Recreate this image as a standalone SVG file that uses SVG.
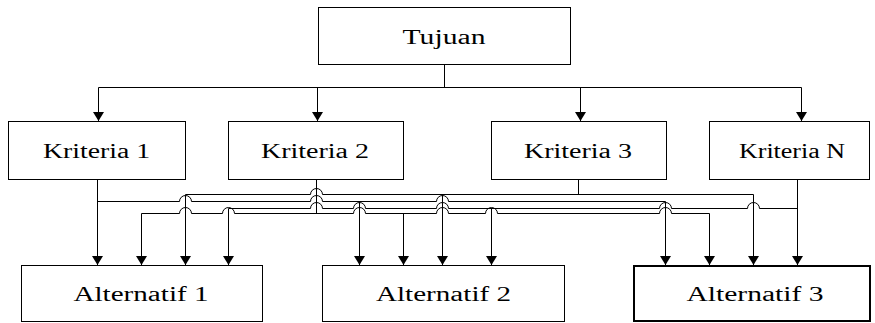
<svg xmlns="http://www.w3.org/2000/svg" width="875" height="323" viewBox="0 0 875 323">
<style>
.box{fill:#fff;stroke:#000;stroke-width:1}
.thick{stroke-width:2}
.lbl{font-family:"Liberation Serif","Times New Roman",serif;font-size:20px;fill:#000;text-anchor:middle}
.ln{fill:none;stroke:#000;stroke-width:1}
.ar{fill:none;stroke:#000;stroke-width:1;marker-end:url(#ah)}
</style>
<defs>
<marker id="ah" viewBox="0 0 9 11" markerUnits="userSpaceOnUse" markerWidth="9" markerHeight="11" refX="9" refY="5.5" orient="auto">
<path d="M0,0 L9,5.5 L0,11 z" fill="#000"/>
</marker>
</defs>
<rect width="875" height="323" fill="#fff"/>
<g id="connectors">
<path class="ln" d="M444.5,64.5 V87.5 M98.5,87.5 H801.5"/>
<path class="ar" d="M98.5,87.5 V121"/>
<path class="ar" d="M317.5,87.5 V121"/>
<path class="ar" d="M580.5,87.5 V121"/>
<path class="ar" d="M801.5,87.5 V121"/>
<!-- Kriteria 1 -->
<path class="ar" d="M97.5,179.5 V265"/>
<path class="ln" d="M97.5,201.5 H179.5 A6,6 0 0 1 191.5,201.5 H310.5 A6,6 0 0 1 322.5,201.5 H436.5 A6,6 0 0 1 448.5,201.5 H665.5"/>
<path class="ar" d="M359.5,201.5 V265"/>
<path class="ar" d="M665.5,201.5 V265"/>
<!-- Kriteria 2 -->
<path class="ln" d="M316.5,179.5 V213.5"/>
<path class="ln" d="M141.5,213.5 H179.5 A6,6 0 0 1 191.5,213.5 H222.5 A6,6 0 0 1 234.5,213.5 H353.5 A6,6 0 0 1 365.5,213.5 H436.5 A6,6 0 0 1 448.5,213.5 H485.5 A6,6 0 0 1 497.5,213.5 H659.5 A6,6 0 0 1 671.5,213.5 H709.5"/>
<path class="ar" d="M141.5,213.5 V265"/>
<path class="ar" d="M403.5,213.5 V265"/>
<path class="ar" d="M709.5,213.5 V265"/>
<!-- Kriteria 3 -->
<path class="ln" d="M578.5,179.5 V194.5"/>
<path class="ln" d="M185.5,194.5 H310.5 A6,6 0 0 1 322.5,194.5 H753.5"/>
<path class="ar" d="M185.5,194.5 V265"/>
<path class="ar" d="M442.5,194.5 V265"/>
<path class="ar" d="M753.5,194.5 V265"/>
<!-- Kriteria N -->
<path class="ar" d="M797.5,179.5 V265"/>
<path class="ln" d="M228.5,208.5 H310.5 A6,6 0 0 1 322.5,208.5 H353.5 A6,6 0 0 1 365.5,208.5 H436.5 A6,6 0 0 1 448.5,208.5 H659.5 A6,6 0 0 1 671.5,208.5 H747.5 A6,6 0 0 1 759.5,208.5 H797.5"/>
<path class="ar" d="M228.5,208.5 V265"/>
<path class="ar" d="M491.5,208.5 V265"/>
</g>
<g id="tujuan">
<rect class="box" x="318.5" y="7.5" width="252" height="57"/>
<text class="lbl" x="444" y="44" textLength="83" lengthAdjust="spacingAndGlyphs">Tujuan</text>
</g>
<g id="kriteria1">
<rect class="box" x="8.5" y="121.5" width="177" height="58"/>
<text class="lbl" x="96.5" y="158" textLength="107" lengthAdjust="spacingAndGlyphs">Kriteria 1</text>
</g>
<g id="kriteria2">
<rect class="box" x="228.5" y="121.5" width="175" height="58"/>
<text class="lbl" x="315" y="158" textLength="108" lengthAdjust="spacingAndGlyphs">Kriteria 2</text>
</g>
<g id="kriteria3">
<rect class="box" x="491.5" y="121.5" width="175" height="58"/>
<text class="lbl" x="578" y="158" textLength="108" lengthAdjust="spacingAndGlyphs">Kriteria 3</text>
</g>
<g id="kriteriaN">
<rect class="box" x="709.5" y="121.5" width="160" height="58"/>
<text class="lbl" x="792" y="158" textLength="106" lengthAdjust="spacingAndGlyphs">Kriteria N</text>
</g>
<g id="alternatif1">
<rect class="box" x="21.5" y="265.5" width="241" height="56"/>
<text class="lbl" x="141" y="301" textLength="135" lengthAdjust="spacingAndGlyphs">Alternatif 1</text>
</g>
<g id="alternatif2">
<rect class="box" x="322.5" y="265.5" width="242" height="56"/>
<text class="lbl" x="443.5" y="301" textLength="135" lengthAdjust="spacingAndGlyphs">Alternatif 2</text>
</g>
<g id="alternatif3">
<rect class="box thick" x="634" y="266" width="236" height="55"/>
<text class="lbl" x="755" y="301" textLength="137" lengthAdjust="spacingAndGlyphs">Alternatif 3</text>
</g>
</svg>
